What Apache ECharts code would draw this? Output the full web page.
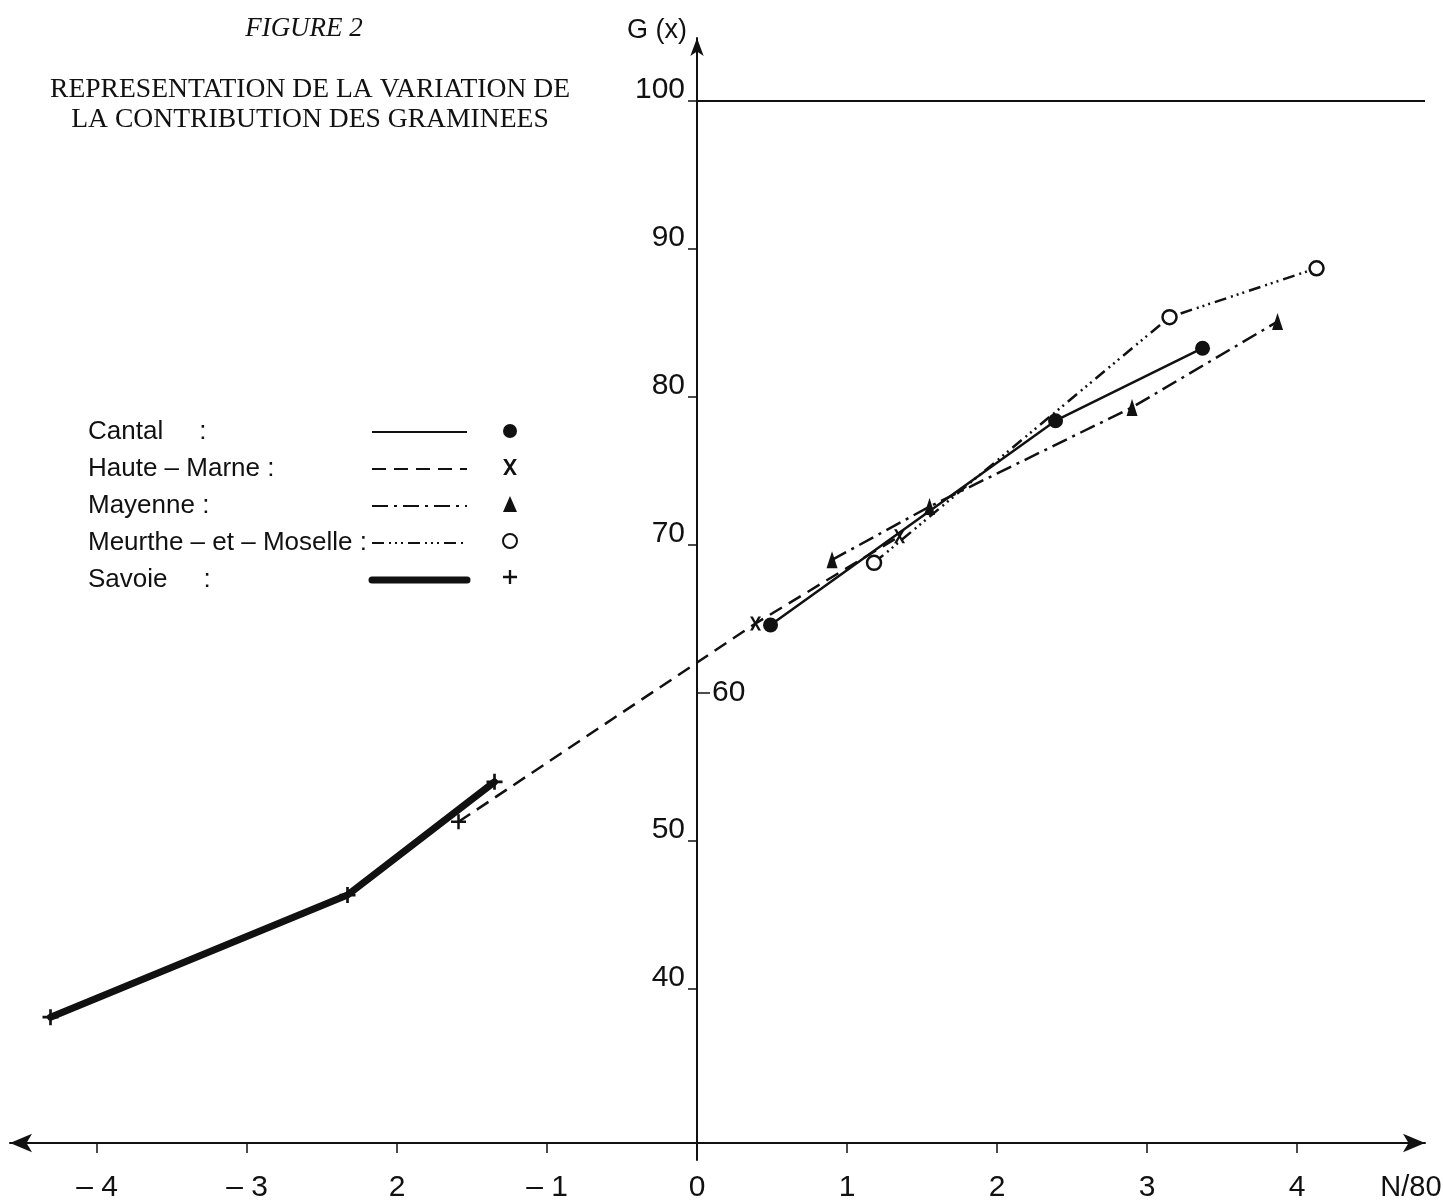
<!DOCTYPE html>
<html>
<head>
<meta charset="utf-8">
<script src="https://cdn.jsdelivr.net/npm/echarts@6/dist/echarts.min.js"></script>
<style>
html,body{margin:0;padding:0;background:#fff;}
#chart{width:1443px;height:1201px;}
</style>
</head>
<body>
<div id="chart"></div>
<script>
// ---- data ----
const seriesNames = ['Cantal', 'Haute-Marne', 'Mayenne', 'Meurthe-et-Moselle', 'Savoie'];
const legendLabels = ['Cantal     :', 'Haute – Marne :', 'Mayenne :', 'Meurthe – et – Moselle :', 'Savoie     :'];

const cantalX = [0.49, 2.39, 3.37];
const cantalY = [64.6, 78.4, 83.3];

const hauteMarneX = [-1.59, 0.39, 1.35];
const hauteMarneY = [51.3, 64.7, 70.6];

const mayenneX = [0.90, 1.55, 2.90, 3.87];
const mayenneY = [69.0, 72.6, 79.3, 85.1];

const meurtheX = [1.18, 3.15, 4.13];
const meurtheY = [68.8, 85.4, 88.7];

const savoieX = [-4.31, -2.33, -1.35];
const savoieY = [38.1, 46.35, 54.0];

const xTickValues = [-4, -3, -2, -1, 0, 1, 2, 3, 4];
const xTickLabels = ['– 4', '– 3', '2', '– 1', '0', '1', '2', '3', '4'];
const yTickValuesLeft = [40, 50, 70, 80, 90, 100];
const yTickValuesRight = [60];
const referenceLevel = 100;

// ---- chart ----
const X_MIN = -4.58, X_MAX = 4.853;
const Y_MIN = 29.6, Y_MAX = 104.26;
const Y_AXIS_MIN = 28.4;   // the vertical axis line runs a little below the horizontal one

const PLUS = 'path://M5,0H7V5H12V7H7V12H5V7H0V5H5Z';
const XSYM = 'path://M0,0L3,0L6,5L9,0L12,0L7.5,7L12,14L9,14L6,9L3,14L0,14L4.5,7Z';

const pairs = (xs, ys) => xs.map((x, i) => [x, ys[i]]);

const axisFont = 'Liberation Sans, Arial, sans-serif';
const serif = 'Liberation Serif, Times New Roman, serif';
const ink = '#111';

const chart = echarts.init(document.getElementById('chart'), null, {renderer: 'canvas'});

const gridBox = {top: 38, right: 18, bottom: 58, outerBoundsMode: 'none', containLabel: false};

const option = {
  backgroundColor: '#fff',
  animation: false,
  title: [
    {
      text: 'FIGURE 2',
      left: 299, top: 10, textAlign: 'center',
      textStyle: {fontFamily: serif, fontStyle: 'italic', fontWeight: 'normal', fontSize: 27, color: ink}
    },
    {
      text: 'REPRESENTATION DE LA VARIATION DE\nLA CONTRIBUTION DES GRAMINEES',
      left: 305, top: 70, textAlign: 'center',
      textStyle: {fontFamily: serif, fontWeight: 'normal', fontSize: 27.6, lineHeight: 30, color: ink}
    }
  ],
  legend: [
    {
      data: seriesNames.map((n, i) => i === 4 ? {name: n, lineStyle: {width: 7}} : {name: n}),
      orient: 'vertical', left: 88, top: 419, padding: 0,
      align: 'right',
      itemWidth: 95, itemHeight: 14, itemGap: 11,
      selectedMode: false,
      itemStyle: {opacity: 0},
      formatter: (name) => '{n|' + legendLabels[seriesNames.indexOf(name)] + '}',
      textStyle: {
        color: ink,
        rich: {n: {fontFamily: axisFont, fontSize: 26, lineHeight: 25, color: ink, width: 279, align: 'left'}}
      }
    },
    {
      data: [
        {name: seriesNames[0], icon: 'circle'},
        {name: seriesNames[1], icon: XSYM},
        {name: seriesNames[2], icon: 'triangle'},
        {name: seriesNames[3], icon: 'circle'},
        {name: seriesNames[4], icon: PLUS}
      ],
      orient: 'vertical', left: 502, top: 424, padding: 0,
      itemWidth: 14, itemHeight: 16, itemGap: 21,
      selectedMode: false,
      formatter: () => '',
      textStyle: {fontSize: 1, lineHeight: 1}
    }
  ],
  grid: [
    Object.assign({left: 10}, gridBox),
    Object.assign({left: 697}, gridBox, {bottom: 41}),
    Object.assign({left: 697}, gridBox, {bottom: 41})
  ],
  xAxis: [
    {
      gridIndex: 0, type: 'value', min: X_MIN, max: X_MAX,
      name: 'N/80', nameLocation: 'end', nameGap: -14,
      nameTextStyle: {fontFamily: axisFont, fontSize: 29, color: ink, verticalAlign: 'top', align: 'center', padding: [30, 0, 0, 0]},
      axisLine: {onZero: false, symbol: ['arrow', 'arrow'], symbolSize: [14, 22], lineStyle: {color: ink, width: 2}},
      axisTick: {show: true, inside: false, length: 10, customValues: xTickValues, lineStyle: {color: ink, width: 1.5}},
      axisLabel: {
        customValues: xTickValues, margin: 30, color: ink, fontFamily: axisFont, fontSize: 30,
        formatter: (v) => { const i = xTickValues.indexOf(Math.round(v)); return i >= 0 ? xTickLabels[i] : ''; }
      },
      splitLine: {show: false}
    },
    {gridIndex: 1, type: 'value', min: 0, max: 1, show: false},
    {gridIndex: 2, type: 'value', min: 0, max: 1, show: false}
  ],
  yAxis: [
    {gridIndex: 0, type: 'value', min: Y_MIN, max: Y_MAX, show: false},
    {
      gridIndex: 1, type: 'value', min: Y_AXIS_MIN, max: Y_MAX, position: 'left',
      name: 'G (x)', nameLocation: 'end', nameGap: 4,
      nameTextStyle: {fontFamily: axisFont, fontSize: 27, color: ink, align: 'right', verticalAlign: 'bottom', padding: [0, 10, -10, 0]},
      axisLine: {onZero: false, symbol: ['none', 'arrow'], symbolSize: [10, 18], lineStyle: {color: ink, width: 2}},
      axisTick: {show: true, inside: false, length: 9, customValues: yTickValuesLeft, lineStyle: {color: ink, width: 1.5}},
      axisLabel: {customValues: yTickValuesLeft, margin: 12, color: ink, fontFamily: axisFont, fontSize: 30, verticalAlign: 'bottom', padding: [0, 0, -4, 0]},
      splitLine: {show: false}
    },
    {
      gridIndex: 2, type: 'value', min: Y_AXIS_MIN, max: Y_MAX, position: 'left',
      axisLine: {show: false, onZero: false},
      axisTick: {show: true, inside: true, length: 13, customValues: yTickValuesRight, lineStyle: {color: ink, width: 1.5}},
      axisLabel: {inside: true, customValues: yTickValuesRight, margin: 15, color: ink, fontFamily: axisFont, fontSize: 30, verticalAlign: 'middle'},
      splitLine: {show: false}
    }
  ],
  series: [
    {
      name: seriesNames[0], type: 'line', xAxisIndex: 0, yAxisIndex: 0, data: pairs(cantalX, cantalY),
      symbol: 'circle', symbolSize: 15,
      lineStyle: {color: ink, width: 2.5, type: 'solid'},
      itemStyle: {color: ink},
      markLine: {
        silent: true, symbol: ['none', 'none'], label: {show: false},
        lineStyle: {color: ink, width: 2, type: 'solid'},
        data: [[{coord: [0, referenceLevel]}, {coord: [X_MAX, referenceLevel]}]]
      },
      z: 5
    },
    {
      name: seriesNames[1], type: 'line', xAxisIndex: 0, yAxisIndex: 0,
      data: pairs(hauteMarneX, hauteMarneY).map((p, i) => ({value: p, symbol: i === 0 ? PLUS : XSYM, symbolSize: i === 0 ? 15 : [11, 14]})),
      lineStyle: {color: ink, width: 2.5, type: [14, 8]},
      itemStyle: {color: ink},
      z: 4
    },
    {
      name: seriesNames[2], type: 'line', xAxisIndex: 0, yAxisIndex: 0, data: pairs(mayenneX, mayenneY),
      symbol: 'triangle', symbolSize: [11, 17],
      lineStyle: {color: ink, width: 2.5, type: [16, 6, 3, 6]},
      itemStyle: {color: ink},
      z: 3
    },
    {
      name: seriesNames[3], type: 'line', xAxisIndex: 0, yAxisIndex: 0, data: pairs(meurtheX, meurtheY),
      symbol: 'circle', symbolSize: 14,
      lineStyle: {color: ink, width: 2.5, type: [12, 5, 2, 4, 2, 4, 2, 5]},
      itemStyle: {color: '#fff', borderColor: ink, borderWidth: 2.5},
      z: 3
    },
    {
      name: seriesNames[4], type: 'line', xAxisIndex: 0, yAxisIndex: 0, data: pairs(savoieX, savoieY),
      symbol: PLUS, symbolSize: 16,
      lineStyle: {color: ink, width: 7, type: 'solid', cap: 'round'},
      itemStyle: {color: ink},
      z: 2
    }
  ]
};

chart.setOption(option);
</script>
</body>
</html>
